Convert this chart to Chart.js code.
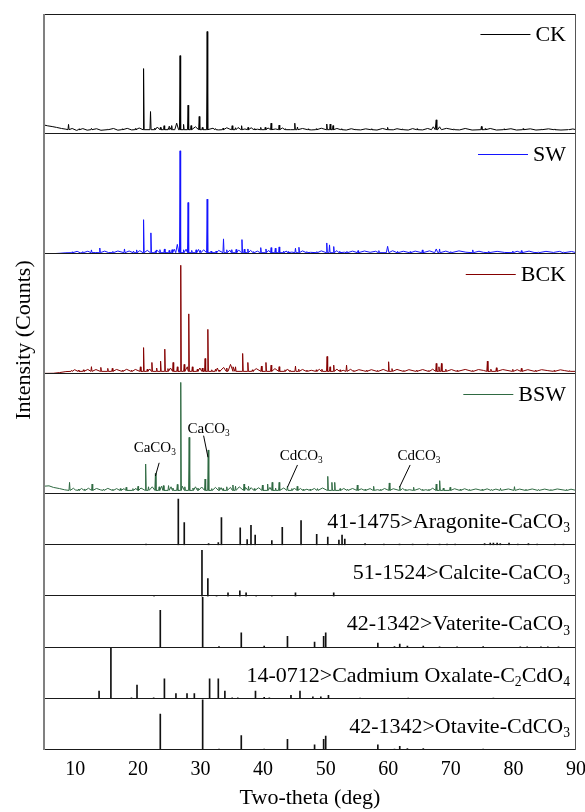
<!DOCTYPE html>
<html>
<head>
<meta charset="utf-8">
<script src="https://cdn.jsdelivr.net/npm/chart.js@4.4.0/dist/chart.umd.min.js"></script>
<style>
  html, body { margin: 0; padding: 0; background: #fff; }
  #wrap { position: relative; width: 585px; height: 812px; }
</style>
</head>
<body>
<div id="wrap"><canvas id="xrd"></canvas></div>
<script>
// ---- axis ----
const xMin = 5, xMax = 90;
const xTicks = [10, 20, 30, 40, 50, 60, 70, 80, 90];

// ---- measured patterns: [2theta, intensity % of panel, (half width)] ----
// ripple = small background wiggles read off the trace
const sampleNames = ['CK', 'SW', 'BCK', 'BSW'];

const ckBase = 3.6;
const ckStart = [[5, 7.5], [5.6, 6.8], [6.3, 6.2], [7, 5.5], [7.8, 4.6], [8.5, 4]];
const ckPeaks = [[8.92, 8], [10.6, 4.3], [12.58, 4.7], [15.2, 4.2], [17.5, 4.3], [19.6, 4.5],
  [20.91, 54.5], [22.02, 18.7], [22.7, 5], [23.6, 5.5], [24.19, 6.9], [24.9, 5.2], [25.4, 7],
  [26.2, 9, 0.3], [26.74, 65.3], [27.3, 8], [28.02, 24], [28.5, 7], [29.8, 14.6], [30.3, 5.5],
  [31.07, 85.4], [32.4, 4.5], [33.6, 4.8], [35.07, 6.9], [35.6, 5.2], [36.57, 6.9], [37.6, 5.5],
  [38.6, 4.4], [39.63, 5.5], [40.35, 5.5], [41.29, 9], [42.57, 7.4], [43.6, 4.4], [45.07, 9],
  [45.5, 5.8], [47.2, 4.3], [48.5, 4.4], [50.18, 8.3], [50.73, 8.3], [51.18, 7], [52.5, 4.3],
  [54.8, 4.2], [57.3, 4.3], [59.9, 5.5], [62.3, 4.3], [64.6, 4.4], [67.2, 6, 0.3], [67.67, 11.8],
  [68.2, 6, 0.3], [70.5, 4.3], [74.89, 6.3], [75.5, 4.5], [78.5, 4.3], [81.55, 4.5], [84.5, 4.2],
  [86.55, 4.2], [88.8, 4.1]];
const ckRipple = [[9.5, 4.6], [10.2, 3.0], [11.2, 4.5], [11.9, 3.2], [13.4, 4.4], [14.1, 3.1],
  [16.1, 4.6], [16.8, 3.2], [18.3, 4.7], [19.0, 3.4], [20.2, 5], [23.1, 5.8], [25.0, 6.5],
  [29.2, 6], [32.0, 4.8], [32.9, 3.4], [34.2, 5.2], [34.7, 4], [36.0, 5.4], [37.1, 4.2],
  [38.1, 5.2], [39.1, 4], [40.8, 5], [42.0, 4.2], [43.1, 5], [44.4, 3.6], [46.3, 4.6],
  [47.7, 3.4], [49.3, 4.8], [51.8, 4.6], [53.3, 3.3], [54.1, 4.4], [55.6, 3.4], [56.4, 4.3],
  [58.2, 3.3], [59.1, 4.6], [60.8, 3.5], [61.4, 4.4], [63.2, 3.3], [63.9, 4.5], [65.5, 3.4],
  [66.3, 4.6], [69.3, 4.7], [71.4, 3.4], [72.3, 4.6], [73.4, 3.3], [76.3, 4.6], [77.3, 3.3],
  [79.6, 4.4], [80.5, 3.3], [82.7, 4.3], [83.6, 3.3], [85.6, 4.3], [87.6, 3.3], [89.5, 4.2]];

const swBase = 1.1;
const swStart = [[5, 0.3], [6.5, 0.3], [7.5, 0.6], [8.5, 1.0]];
const swPeaks = [[9.5, 1.8], [11.2, 2], [12.58, 3.4], [13.91, 5], [16.0, 2.2], [17.86, 4.2],
  [19.3, 2.5], [19.8, 3.4], [20.91, 28.6], [22.08, 17.6], [22.8, 2.6], [23.52, 3.6], [24.24, 4.2],
  [25.0, 3], [25.46, 3.6], [26.3, 8, 0.25], [26.74, 86], [27.3, 3.5], [28.02, 42.9], [28.6, 3],
  [29.3, 3.5], [30.0, 3], [31.07, 45.7], [31.7, 2.5], [32.5, 2.5], [33.68, 12.6], [34.2, 3.5],
  [35.0, 3.6], [35.7, 3.8], [36.63, 12], [37.0, 4], [37.57, 4.2], [38.5, 2], [39.63, 5.3],
  [40.46, 4.2], [41.29, 5.3], [41.96, 4.8], [42.57, 5.9], [43.3, 2.4], [44.0, 2], [45.18, 4.8],
  [45.73, 5.6], [47.0, 2], [48.6, 2], [50.18, 9.2], [50.62, 7.6], [51.29, 6.2], [52.2, 2],
  [53.4, 2.2], [55.17, 2.8], [58.5, 2.8], [59.9, 6.4, 0.2], [61.5, 2.2], [63.5, 2], [65.45, 3.4],
  [67.67, 4.2, 0.25], [68.2, 4.2], [70, 2], [73.5, 3.4], [76, 2], [79.9, 2.5], [81.27, 2.8],
  [84, 1.8], [88, 1.8]];
const swRipple = [[10.3, 2.2], [10.8, 1], [12.0, 2.3], [13.2, 1.2], [14.7, 2.4], [15.3, 1.2],
  [16.8, 2.5], [18.6, 2.5], [20.3, 2.8], [21.5, 3], [23.0, 3.4], [25.8, 4], [27.7, 4], [29.7, 3.8],
  [30.5, 3.5], [32.9, 3], [34.7, 3.2], [36.1, 3.4], [38.0, 3], [39.1, 2.4], [40.9, 3], [43.7, 2.5],
  [44.6, 1.6], [46.3, 2.6], [47.6, 1.4], [49.3, 2.6], [51.8, 2.8], [53.0, 1.5], [54.3, 2.4],
  [56.2, 2.5], [57.1, 1.4], [58.0, 2.3], [60.7, 2.7], [62.4, 2.3], [64.3, 2.4], [66.6, 2.6],
  [69.2, 2.4], [71.3, 2.6], [72.4, 1.5], [74.5, 2.3], [75.2, 1.4], [77.4, 2.2], [78.6, 1.3],
  [80.6, 2.3], [82.5, 2.4], [83.3, 1.3], [85.2, 2.2], [86.4, 1.3], [87.4, 2.2], [89.3, 2.1]];

const bckBase = 2.2;
const bckStart = [[5, 0.5], [6.5, 0.6], [7.5, 1.2], [8.5, 2]];
const bckPeaks = [[9.4, 3], [10.5, 3.2], [11.3, 3.5], [12.58, 6.1], [14.08, 5.5], [15.19, 4.7],
  [15.91, 4.7], [17.5, 3], [19.0, 3.2], [20.4, 6], [20.91, 22], [21.5, 4], [22.24, 9.6], [23.0, 5],
  [23.63, 10.7], [24.3, 20.7], [24.8, 4.5], [25.63, 9.6], [26.3, 6], [26.85, 90.6], [27.4, 8],
  [28.13, 50.1], [28.7, 6], [29.5, 4], [30.3, 5], [30.74, 12.9], [31.18, 37.2], [31.8, 3.5],
  [32.4, 4], [33.0, 3.3], [34.2, 5], [34.8, 8, 0.4], [35.6, 6], [36.74, 17.1], [37.57, 9.6],
  [38.3, 3.5], [39.74, 6.6], [40.46, 9.6], [41.29, 7.4], [42.57, 6.1], [43.5, 3.5], [44.3, 3.2],
  [45.18, 6.6], [45.7, 4], [47, 3.3], [48.5, 3.5], [49.4, 4], [50.23, 14.6], [50.7, 6],
  [51.29, 7.4], [52.3, 3.5], [53.34, 7.4], [54.5, 3], [56.5, 3], [58.3, 3], [60.06, 10.2],
  [60.6, 4.5], [62.5, 3], [64.5, 3], [66.5, 3], [67.67, 8.8], [68.1, 6], [68.5, 8.8], [69.2, 4],
  [71, 3], [73.5, 3], [75.84, 10.7], [76.4, 4], [77.28, 5.2], [79.9, 3.9], [81.27, 4.7],
  [83.5, 3], [86.5, 3], [89, 2.8]];
const bckRipple = [[9.9, 3.6], [12.0, 3.8], [13.3, 3.7], [16.6, 3.8], [18.2, 3.9], [19.6, 3.8],
  [21.9, 4.2], [25.2, 5], [27.9, 6], [29.9, 5], [32.7, 5], [33.7, 5.5], [35.2, 6], [38.9, 4.5],
  [41.9, 4.5], [43.9, 4.2], [46.3, 3.8], [47.7, 3.1], [49.0, 3.9], [51.8, 4], [52.8, 3.1],
  [54.0, 3.9], [55.3, 3.6], [56.0, 2.8], [57.3, 3.6], [59.2, 3.8], [61.4, 3.8], [63.3, 3.6],
  [65.5, 3.7], [67.1, 4], [70.1, 3.7], [72.3, 3.8], [74.4, 3.7], [75.2, 3], [78.3, 3.7],
  [80.6, 3.6], [82.3, 3.6], [84.5, 3.6], [85.5, 2.8], [87.5, 3.5], [88.2, 2.8]];

const bswBase = 3;
const bswStart = [[5, 6.5], [5.8, 6.8], [6.5, 5.5], [7.5, 4.5], [8.3, 3.5]];
const bswPeaks = [[9.08, 9.7], [10.5, 4], [11.5, 4.2], [12.69, 8.3], [14.5, 4], [16, 4],
  [17.2, 4.5], [18.13, 5.6], [19.2, 4.5], [20.02, 6.4], [21.24, 25], [21.7, 6], [22.8, 17.2],
  [23.4, 6], [24.08, 7], [24.9, 7], [25.6, 5], [26.3, 8], [26.85, 93], [27.5, 6], [28.19, 47.2],
  [28.8, 5], [29.6, 5], [30.74, 12.5], [31.24, 36.7], [31.8, 4.5], [32.96, 5.6], [33.6, 4.5],
  [34.2, 6], [35.18, 7.5], [35.6, 6.5], [36.96, 8.3], [37.68, 6.4], [38.6, 4.5], [39.9, 7.5],
  [40.73, 8.3], [41.46, 9.7], [42.0, 5], [42.57, 9.7], [43.9, 6.4], [44.6, 4.5], [45.46, 6.4],
  [46.4, 4], [47.5, 4], [48.7, 4.5], [50.34, 14.7], [51.0, 9.7], [51.45, 9.7], [52.3, 4.5],
  [53.5, 4], [55.06, 7.5], [56.3, 4], [57.67, 6.4], [58.8, 4], [60.17, 9.2], [61.84, 6.4],
  [62.8, 4], [64.06, 5.6], [65.5, 4], [66.5, 4], [67.67, 8.3], [68.22, 11.1], [68.8, 5],
  [69.89, 5.6], [71.5, 4], [73, 3.8], [75, 4], [76.5, 3.8], [77.94, 4.7], [80.17, 6.1], [82, 4],
  [84, 3.8], [86, 3.8], [88.5, 3.8]];
const bswRipple = [[9.7, 4.8], [10.0, 3.4], [11.0, 4.6], [12.1, 4.8], [13.4, 4.6], [14.0, 3.5],
  [15.2, 4.7], [16.6, 4.5], [17.8, 4.5], [19.7, 4.7], [20.5, 5], [22.3, 6], [23.8, 6.5],
  [25.3, 6], [27.1, 6.5], [29.2, 6], [30.2, 5.8], [32.4, 5.5], [33.3, 5.3], [34.8, 5.5],
  [36.2, 6], [37.2, 5.5], [38.1, 5.3], [39.3, 5.2], [41.1, 5.5], [43.3, 5], [45.0, 5], [46.0, 4.6],
  [47.0, 4], [48.2, 4.6], [49.5, 5], [52.9, 4.6], [54.3, 4.6], [55.7, 4.3], [57.1, 4.5],
  [58.3, 3.6], [59.4, 4.6], [60.8, 4.4], [62.3, 4.6], [63.4, 3.6], [65.0, 4.5], [66.0, 3.6],
  [67.1, 4.8], [70.6, 4.4], [72.2, 4.4], [74.0, 4.2], [75.8, 4.3], [77.2, 4.1], [79.2, 4.2],
  [81.0, 4.1], [83.0, 4.2], [85.0, 4.1], [87.0, 4.2], [89.2, 4]];

// ---- reference cards: [2theta, relative intensity %] ----
const refCards = ['41-1475>Aragonite-CaCO_3', '51-1524>Calcite-CaCO_3', '42-1342>Vaterite-CaCO_3',
  '14-0712>Cadmium Oxalate-C_2CdO_4', '42-1342>Otavite-CdCO_3'];

const aragonite = [[21.3, 2], [26.46, 90], [27.41, 44], [31.3, 3], [32.85, 5], [33.35, 54],
  [36.35, 34], [37.46, 11], [38.07, 39], [38.74, 20], [41.4, 9], [43.07, 35], [46.07, 48],
  [48.57, 21], [50.34, 16], [52.12, 10], [52.62, 20], [53.06, 12], [56.3, 3], [59.3, 2],
  [61.8, 2], [63.9, 2], [66.3, 2], [68.2, 2], [69.4, 2], [70.7, 2], [75.4, 3], [76.3, 4],
  [76.8, 4], [77.4, 4], [77.9, 3], [79.3, 4], [80.7, 2], [82.4, 3], [83.8, 2], [86.6, 2], [88.0, 2]];
const calcite = [[22.58, 2], [30.24, 90], [31.18, 35], [32.57, 2], [34.4, 7], [36.29, 11],
  [37.29, 7], [38.9, 2], [41.4, 1.5], [45.18, 7], [51.29, 7]];
const vaterite = [[23.58, 73], [30.35, 98], [32.96, 2], [36.52, 29], [40.18, 3], [43.9, 22],
  [48.23, 11], [49.68, 22], [50.01, 29], [58.34, 9], [61.0, 2], [61.84, 7], [63.06, 3], [65.6, 3],
  [68.2, 1.5], [71.0, 1.5], [75.17, 2], [81.1, 1.5], [82.2, 1.5], [84.4, 1.5], [85.5, 1.5], [87.2, 1.5]];
const cdOxalate = [[13.8, 15], [15.69, 99], [18.97, 2], [19.86, 27], [22.52, 2], [24.24, 39],
  [26.08, 10], [27.85, 10], [29.02, 10], [31.46, 39], [32.85, 39], [33.9, 15], [35.07, 2],
  [35.96, 2], [38.79, 15], [40.18, 3], [41.0, 2], [44.46, 7], [45.9, 15], [47.96, 4], [49.23, 4],
  [50.45, 7], [55.5, 1.5], [63.2, 1.5], [76.8, 1.5]];
const otavite = [[23.58, 70], [30.35, 98], [32.96, 2], [36.52, 28], [40.18, 2], [43.9, 21],
  [48.23, 10], [49.68, 21], [50.01, 27], [58.34, 10], [61.0, 2], [61.84, 7], [63.06, 3], [65.6, 3],
  [75.17, 2], [81.1, 1.5], [82.2, 1.5], [84.4, 1.5], [85.5, 1.5]];

// ---- labels on the BSW trace: text, [2theta, y] of text, leader from -> to ----
const phaseNotes = ['CaCO_3', 'CaCO_3', 'CdCO_3', 'CdCO_3'];
const noteAt = [[22.7, 39], [31.3, 55], [46.1, 32.5], [64.9, 32.5]];
const noteLead = [[[23.4, 26], [22.8, 15]], [[30.5, 48.6], [31.2, 30.6]],
  [[45.5, 24.2], [43.9, 5.6]], [[63.5, 24.2], [61.8, 5.6]]];

// ---- styles ----
const FONT = "'Liberation Serif', 'Times New Roman', serif";
const sampleColors = ['#000000', '#1414ff', '#850000', '#2f6a42'];
const panelIds = ['yCK', 'ySW', 'yBCK', 'yBSW', 'yAr', 'yCa', 'yVa', 'yOx', 'yOt'];

function pattern(start, peaks, ripple, base) {
  const pts = start.concat(ripple).map(([x, y]) => ({x, y}));
  peaks.forEach(([p, h, w = 0.09]) => {
    pts.push({x: p - w, y: base}, {x: p, y: h}, {x: p + w, y: base});
  });
  pts.push({x: xMax, y: base});
  return pts.sort((a, b) => a.x - b.x);
}

const sticks = list => list.map(([x, y]) => ({x, y}));

function parts(str) {
  // "CaCO_3" -> [['CaCO', false], ['3', true]]
  return str.split(/_(\d)/).map((t, i) => [t, i % 2 === 1]).filter(p => p[0]);
}

function richText(ctx, str, x, y, size, align) {
  const ps = parts(str);
  const widths = ps.map(([t, sub]) => {
    ctx.font = `${sub ? size * 0.62 : size}px ${FONT}`;
    return ctx.measureText(t).width;
  });
  const total = widths.reduce((s, w) => s + w, 0);
  let cx = align === 'right' ? x - total : align === 'center' ? x - total / 2 : x;
  ctx.textAlign = 'left';
  ctx.textBaseline = 'alphabetic';
  ps.forEach(([t, sub], i) => {
    ctx.font = `${sub ? size * 0.62 : size}px ${FONT}`;
    ctx.fillText(t, cx, sub ? y + size * 0.2 : y);
    cx += widths[i];
  });
  return total;
}

const lineSet = (label, data, id, color) => ({
  type: 'line', label, data, yAxisID: id, borderColor: color, borderWidth: 1,
  pointRadius: 0, tension: 0, fill: false, borderJoinStyle: 'bevel'
});
const stickSet = (label, data, id) => ({
  type: 'bar', label, data, yAxisID: id, backgroundColor: '#111', borderWidth: 0,
  barThickness: 1, grouped: false
});

const datasets = [
  lineSet('CK', pattern(ckStart, ckPeaks, ckRipple, ckBase), 'yCK', sampleColors[0]),
  lineSet('SW', pattern(swStart, swPeaks, swRipple, swBase), 'ySW', sampleColors[1]),
  lineSet('BCK', pattern(bckStart, bckPeaks, bckRipple, bckBase), 'yBCK', sampleColors[2]),
  lineSet('BSW', pattern(bswStart, bswPeaks, bswRipple, bswBase), 'yBSW', sampleColors[3]),
  stickSet('Aragonite', sticks(aragonite), 'yAr'),
  stickSet('Calcite', sticks(calcite), 'yCa'),
  stickSet('Vaterite', sticks(vaterite), 'yVa'),
  stickSet('Cadmium Oxalate', sticks(cdOxalate), 'yOx'),
  stickSet('Otavite', sticks(otavite), 'yOt')
];

const scales = {
  x: {
    type: 'linear', min: xMin, max: xMax, offset: false,
    afterBuildTicks: s => { s.ticks = xTicks.map(v => ({value: v})); },
    afterFit: s => {
      // fixed axis band; let the last label run to the edge like the original
      s.height = 62;
      s.paddingLeft = 0;
      s.paddingRight = 0;
    },
    grid: { display: false },
    border: { display: false },
    ticks: { color: '#000', font: { family: FONT, size: 20 }, padding: 0, maxRotation: 0 },
    title: { display: true, text: 'Two-theta (deg)', color: '#000',
      font: { family: FONT, size: 22 }, padding: { top: 0, bottom: 1 } }
  }
};
panelIds.forEach((id, i) => {
  scales[id] = {
    type: 'linear', min: 0, max: 100, display: false, position: 'left',
    stack: 'xrd', stackWeight: i < 4 ? 120 : 51.2, weight: panelIds.length - i
  };
});

const overlay = {
  id: 'overlay',
  afterDraw(chart) {
    const {ctx, chartArea: a, scales: sc} = chart;
    ctx.save();

    // panel frames
    ctx.lineWidth = 1;
    ctx.strokeStyle = '#1a1a1a';
    ctx.beginPath();
    ctx.moveTo(a.left, a.top + 0.5);
    ctx.lineTo(a.right, a.top + 0.5);
    panelIds.forEach(id => {
      const y = Math.round(sc[id].bottom) - 0.5;
      ctx.moveTo(a.left, y);
      ctx.lineTo(a.right, y);
    });
    ctx.stroke();
    ctx.strokeStyle = '#555';
    ctx.beginPath();
    ctx.moveTo(a.right - 0.5, a.top);
    ctx.lineTo(a.right - 0.5, a.bottom);
    ctx.stroke();
    ctx.lineWidth = 2;
    ctx.strokeStyle = '#808080';
    ctx.beginPath();
    ctx.moveTo(a.left, a.top);
    ctx.lineTo(a.left, a.bottom);
    ctx.stroke();

    ctx.fillStyle = '#000';

    // sample legends
    sampleNames.forEach((name, i) => {
      const top = sc[panelIds[i]].top;
      ctx.font = `22px ${FONT}`;
      const w = ctx.measureText(name).width;
      const tx = a.right - 10 - w;
      ctx.textAlign = 'left';
      ctx.textBaseline = 'middle';
      ctx.fillText(name, tx, top + 21);
      ctx.strokeStyle = sampleColors[i];
      ctx.lineWidth = 1;
      ctx.beginPath();
      ctx.moveTo(tx - 55, Math.round(top + 20) + 0.5);
      ctx.lineTo(tx - 5, Math.round(top + 20) + 0.5);
      ctx.stroke();
    });

    // reference card labels
    refCards.forEach((txt, i) => {
      const top = sc[panelIds[4 + i]].top;
      richText(ctx, txt, a.right - 6, top + 34, 22, 'right');
    });

    // phase notes on BSW
    const yS = sc.yBSW, xS = sc.x;
    phaseNotes.forEach((txt, i) => {
      const [nx, ny] = noteAt[i];
      richText(ctx, txt, xS.getPixelForValue(nx), yS.getPixelForValue(ny) + 5, 15, 'center');
      const [[x1, y1], [x2, y2]] = noteLead[i];
      ctx.strokeStyle = '#000';
      ctx.lineWidth = 1;
      ctx.beginPath();
      ctx.moveTo(xS.getPixelForValue(x1), yS.getPixelForValue(y1));
      ctx.lineTo(xS.getPixelForValue(x2), yS.getPixelForValue(y2));
      ctx.stroke();
    });

    // y title
    ctx.translate(24, 340);
    ctx.rotate(-Math.PI / 2);
    ctx.font = `22px ${FONT}`;
    ctx.textAlign = 'center';
    ctx.textBaseline = 'middle';
    ctx.fillText('Intensity (Counts)', 0, 0);
    ctx.restore();
  }
};

new Chart(document.getElementById('xrd'), {
  type: 'line',
  data: { datasets },
  options: {
    responsive: true,
    maintainAspectRatio: false,
    animation: false,
    devicePixelRatio: 1,
    layout: { padding: { left: 44, right: 9, top: 14, bottom: 0 }, autoPadding: false },
    plugins: { legend: { display: false }, tooltip: { enabled: false } },
    scales
  },
  plugins: [overlay]
});
</script>
</body>
</html>
